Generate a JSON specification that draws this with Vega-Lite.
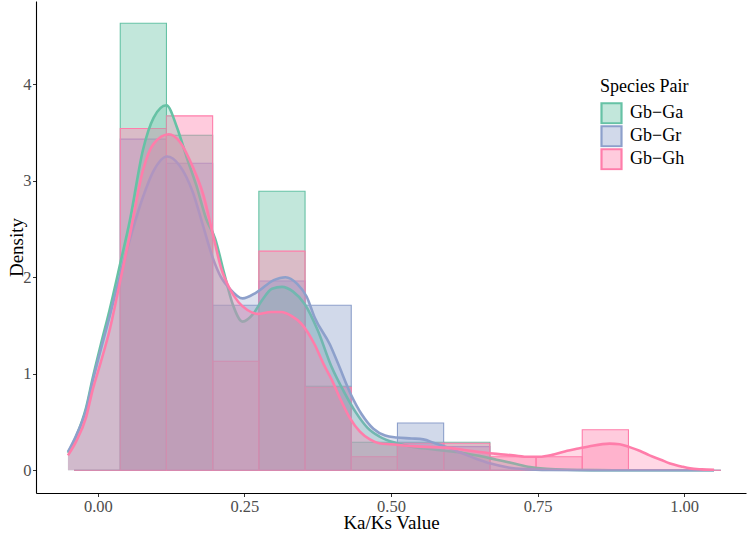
{
  "$schema": "https://vega.github.io/schema/vega-lite/v6.json",
  "width": 710,
  "height": 492,
  "autosize": {"type": "none"},
  "padding": {"left": 36, "top": 1, "right": 2, "bottom": 40},
  "background": "white",
  "config": {
    "view": {"stroke": null},
    "font": "Liberation Serif",
    "axis": {
      "grid": false,
      "domainColor": "#000000",
      "domainWidth": 1.1,
      "tickColor": "#333333",
      "tickSize": 3.5,
      "labelColor": "#4D4D4D",
      "labelFont": "Liberation Serif",
      "labelFontSize": 16.5,
      "titleFont": "Liberation Serif",
      "titleFontSize": 19,
      "titleFontWeight": "normal",
      "titleColor": "#000000"
    },
    "legend": {
      "titleFont": "Liberation Serif",
      "titleFontSize": 18,
      "titleFontWeight": "normal",
      "titleColor": "#000000",
      "labelFont": "Liberation Serif",
      "labelFontSize": 18,
      "labelColor": "#000000"
    }
  },
  "datasets": {
    "hist": [
      {"pair": "Gb−Ga", "x0": -0.0406, "x1": 0.0382, "density": 0},
      {"pair": "Gb−Ga", "x0": 0.0382, "x1": 0.117, "density": 4.63},
      {"pair": "Gb−Ga", "x0": 0.117, "x1": 0.1958, "density": 3.47},
      {"pair": "Gb−Ga", "x0": 0.1958, "x1": 0.2746, "density": 0},
      {"pair": "Gb−Ga", "x0": 0.2746, "x1": 0.3534, "density": 2.89},
      {"pair": "Gb−Ga", "x0": 0.3534, "x1": 0.4322, "density": 0.87},
      {"pair": "Gb−Ga", "x0": 0.4322, "x1": 0.511, "density": 0.29},
      {"pair": "Gb−Ga", "x0": 0.511, "x1": 0.5898, "density": 0.29},
      {"pair": "Gb−Ga", "x0": 0.5898, "x1": 0.6686, "density": 0.29},
      {"pair": "Gb−Ga", "x0": 0.6686, "x1": 0.7474, "density": 0},
      {"pair": "Gb−Ga", "x0": 0.7474, "x1": 0.8262, "density": 0},
      {"pair": "Gb−Ga", "x0": 0.8262, "x1": 0.905, "density": 0},
      {"pair": "Gb−Ga", "x0": 0.905, "x1": 0.9838, "density": 0},
      {"pair": "Gb−Ga", "x0": 0.9838, "x1": 1.0626, "density": 0},
      {"pair": "Gb−Gr", "x0": -0.0406, "x1": 0.0382, "density": 0},
      {"pair": "Gb−Gr", "x0": 0.0382, "x1": 0.117, "density": 3.43},
      {"pair": "Gb−Gr", "x0": 0.117, "x1": 0.1958, "density": 3.18},
      {"pair": "Gb−Gr", "x0": 0.1958, "x1": 0.2746, "density": 1.71},
      {"pair": "Gb−Gr", "x0": 0.2746, "x1": 0.3534, "density": 1.96},
      {"pair": "Gb−Gr", "x0": 0.3534, "x1": 0.4322, "density": 1.71},
      {"pair": "Gb−Gr", "x0": 0.4322, "x1": 0.511, "density": 0},
      {"pair": "Gb−Gr", "x0": 0.511, "x1": 0.5898, "density": 0.49},
      {"pair": "Gb−Gr", "x0": 0.5898, "x1": 0.6686, "density": 0.245},
      {"pair": "Gb−Gr", "x0": 0.6686, "x1": 0.7474, "density": 0},
      {"pair": "Gb−Gr", "x0": 0.7474, "x1": 0.8262, "density": 0},
      {"pair": "Gb−Gr", "x0": 0.8262, "x1": 0.905, "density": 0},
      {"pair": "Gb−Gr", "x0": 0.905, "x1": 0.9838, "density": 0},
      {"pair": "Gb−Gr", "x0": 0.9838, "x1": 1.0626, "density": 0},
      {"pair": "Gb−Gh", "x0": -0.0406, "x1": 0.0382, "density": 0},
      {"pair": "Gb−Gh", "x0": 0.0382, "x1": 0.117, "density": 3.54},
      {"pair": "Gb−Gh", "x0": 0.117, "x1": 0.1958, "density": 3.67},
      {"pair": "Gb−Gh", "x0": 0.1958, "x1": 0.2746, "density": 1.13},
      {"pair": "Gb−Gh", "x0": 0.2746, "x1": 0.3534, "density": 2.27},
      {"pair": "Gb−Gh", "x0": 0.3534, "x1": 0.4322, "density": 0.86},
      {"pair": "Gb−Gh", "x0": 0.4322, "x1": 0.511, "density": 0.14},
      {"pair": "Gb−Gh", "x0": 0.511, "x1": 0.5898, "density": 0.28},
      {"pair": "Gb−Gh", "x0": 0.5898, "x1": 0.6686, "density": 0.28},
      {"pair": "Gb−Gh", "x0": 0.6686, "x1": 0.7474, "density": 0.14},
      {"pair": "Gb−Gh", "x0": 0.7474, "x1": 0.8262, "density": 0.14},
      {"pair": "Gb−Gh", "x0": 0.8262, "x1": 0.905, "density": 0.42},
      {"pair": "Gb−Gh", "x0": 0.905, "x1": 0.9838, "density": 0},
      {"pair": "Gb−Gh", "x0": 0.9838, "x1": 1.0626, "density": 0}
    ],
    "dens": [
      {"pair": "Gb−Ga", "ka": -0.051, "density": 0.18},
      {"pair": "Gb−Ga", "ka": -0.037, "density": 0.35},
      {"pair": "Gb−Ga", "ka": -0.02, "density": 0.65},
      {"pair": "Gb−Ga", "ka": -0.009, "density": 0.95},
      {"pair": "Gb−Ga", "ka": 0.005, "density": 1.3},
      {"pair": "Gb−Ga", "ka": 0.02, "density": 1.66},
      {"pair": "Gb−Ga", "ka": 0.037, "density": 2.11},
      {"pair": "Gb−Ga", "ka": 0.055, "density": 2.6},
      {"pair": "Gb−Ga", "ka": 0.077, "density": 3.32},
      {"pair": "Gb−Ga", "ka": 0.095, "density": 3.65},
      {"pair": "Gb−Ga", "ka": 0.117, "density": 3.78},
      {"pair": "Gb−Ga", "ka": 0.135, "density": 3.55},
      {"pair": "Gb−Ga", "ka": 0.151, "density": 3.25},
      {"pair": "Gb−Ga", "ka": 0.168, "density": 2.95},
      {"pair": "Gb−Ga", "ka": 0.185, "density": 2.6},
      {"pair": "Gb−Ga", "ka": 0.2, "density": 2.4},
      {"pair": "Gb−Ga", "ka": 0.215, "density": 2.05},
      {"pair": "Gb−Ga", "ka": 0.23, "density": 1.72},
      {"pair": "Gb−Ga", "ka": 0.247, "density": 1.54},
      {"pair": "Gb−Ga", "ka": 0.265, "density": 1.62},
      {"pair": "Gb−Ga", "ka": 0.28, "density": 1.76},
      {"pair": "Gb−Ga", "ka": 0.297, "density": 1.88},
      {"pair": "Gb−Ga", "ka": 0.314, "density": 1.9},
      {"pair": "Gb−Ga", "ka": 0.333, "density": 1.85},
      {"pair": "Gb−Ga", "ka": 0.353, "density": 1.72},
      {"pair": "Gb−Ga", "ka": 0.375, "density": 1.45},
      {"pair": "Gb−Ga", "ka": 0.398, "density": 1.08},
      {"pair": "Gb−Ga", "ka": 0.421, "density": 0.8},
      {"pair": "Gb−Ga", "ka": 0.44, "density": 0.6},
      {"pair": "Gb−Ga", "ka": 0.46, "density": 0.44},
      {"pair": "Gb−Ga", "ka": 0.48, "density": 0.35},
      {"pair": "Gb−Ga", "ka": 0.51, "density": 0.28},
      {"pair": "Gb−Ga", "ka": 0.54, "density": 0.24},
      {"pair": "Gb−Ga", "ka": 0.566, "density": 0.22},
      {"pair": "Gb−Ga", "ka": 0.595, "density": 0.2},
      {"pair": "Gb−Ga", "ka": 0.623, "density": 0.18},
      {"pair": "Gb−Ga", "ka": 0.65, "density": 0.15},
      {"pair": "Gb−Ga", "ka": 0.68, "density": 0.11},
      {"pair": "Gb−Ga", "ka": 0.71, "density": 0.07},
      {"pair": "Gb−Ga", "ka": 0.737, "density": 0.035},
      {"pair": "Gb−Ga", "ka": 0.765, "density": 0.015},
      {"pair": "Gb−Ga", "ka": 0.8, "density": 0.005},
      {"pair": "Gb−Ga", "ka": 0.85, "density": 0.002},
      {"pair": "Gb−Ga", "ka": 0.95, "density": 0},
      {"pair": "Gb−Ga", "ka": 1.051, "density": 0},
      {"pair": "Gb−Gr", "ka": -0.051, "density": 0.19},
      {"pair": "Gb−Gr", "ka": -0.037, "density": 0.36},
      {"pair": "Gb−Gr", "ka": -0.02, "density": 0.63},
      {"pair": "Gb−Gr", "ka": -0.009, "density": 0.92},
      {"pair": "Gb−Gr", "ka": 0.005, "density": 1.25},
      {"pair": "Gb−Gr", "ka": 0.02, "density": 1.59},
      {"pair": "Gb−Gr", "ka": 0.037, "density": 2.0},
      {"pair": "Gb−Gr", "ka": 0.055, "density": 2.4},
      {"pair": "Gb−Gr", "ka": 0.077, "density": 2.83},
      {"pair": "Gb−Gr", "ka": 0.095, "density": 3.1},
      {"pair": "Gb−Gr", "ka": 0.118, "density": 3.25},
      {"pair": "Gb−Gr", "ka": 0.139, "density": 3.16},
      {"pair": "Gb−Gr", "ka": 0.162, "density": 2.88},
      {"pair": "Gb−Gr", "ka": 0.18, "density": 2.52},
      {"pair": "Gb−Gr", "ka": 0.196, "density": 2.2},
      {"pair": "Gb−Gr", "ka": 0.21, "density": 2.0},
      {"pair": "Gb−Gr", "ka": 0.225, "density": 1.88},
      {"pair": "Gb−Gr", "ka": 0.247, "density": 1.78},
      {"pair": "Gb−Gr", "ka": 0.27, "density": 1.84},
      {"pair": "Gb−Gr", "ka": 0.3, "density": 1.97},
      {"pair": "Gb−Gr", "ka": 0.32, "density": 2.0},
      {"pair": "Gb−Gr", "ka": 0.34, "density": 1.93},
      {"pair": "Gb−Gr", "ka": 0.356, "density": 1.8},
      {"pair": "Gb−Gr", "ka": 0.37, "density": 1.58},
      {"pair": "Gb−Gr", "ka": 0.396, "density": 1.3},
      {"pair": "Gb−Gr", "ka": 0.41, "density": 1.1},
      {"pair": "Gb−Gr", "ka": 0.432, "density": 0.78},
      {"pair": "Gb−Gr", "ka": 0.45, "density": 0.58},
      {"pair": "Gb−Gr", "ka": 0.47, "density": 0.43},
      {"pair": "Gb−Gr", "ka": 0.49, "density": 0.36},
      {"pair": "Gb−Gr", "ka": 0.51, "density": 0.34},
      {"pair": "Gb−Gr", "ka": 0.535, "density": 0.33},
      {"pair": "Gb−Gr", "ka": 0.555, "density": 0.32},
      {"pair": "Gb−Gr", "ka": 0.575, "density": 0.28},
      {"pair": "Gb−Gr", "ka": 0.595, "density": 0.24},
      {"pair": "Gb−Gr", "ka": 0.62, "density": 0.18},
      {"pair": "Gb−Gr", "ka": 0.645, "density": 0.12},
      {"pair": "Gb−Gr", "ka": 0.67, "density": 0.07},
      {"pair": "Gb−Gr", "ka": 0.7, "density": 0.03},
      {"pair": "Gb−Gr", "ka": 0.73, "density": 0.012},
      {"pair": "Gb−Gr", "ka": 0.77, "density": 0.004},
      {"pair": "Gb−Gr", "ka": 0.85, "density": 0},
      {"pair": "Gb−Gr", "ka": 1.051, "density": 0},
      {"pair": "Gb−Gh", "ka": -0.051, "density": 0.155},
      {"pair": "Gb−Gh", "ka": -0.037, "density": 0.3},
      {"pair": "Gb−Gh", "ka": -0.02, "density": 0.55},
      {"pair": "Gb−Gh", "ka": -0.009, "density": 0.83},
      {"pair": "Gb−Gh", "ka": 0.005, "density": 1.12},
      {"pair": "Gb−Gh", "ka": 0.02, "density": 1.45},
      {"pair": "Gb−Gh", "ka": 0.037, "density": 1.93},
      {"pair": "Gb−Gh", "ka": 0.055, "density": 2.45},
      {"pair": "Gb−Gh", "ka": 0.077, "density": 3.11},
      {"pair": "Gb−Gh", "ka": 0.095, "density": 3.38},
      {"pair": "Gb−Gh", "ka": 0.121, "density": 3.48},
      {"pair": "Gb−Gh", "ka": 0.14, "density": 3.4},
      {"pair": "Gb−Gh", "ka": 0.162, "density": 3.14},
      {"pair": "Gb−Gh", "ka": 0.18, "density": 2.85},
      {"pair": "Gb−Gh", "ka": 0.196, "density": 2.45},
      {"pair": "Gb−Gh", "ka": 0.21, "density": 2.1},
      {"pair": "Gb−Gh", "ka": 0.225, "density": 1.88},
      {"pair": "Gb−Gh", "ka": 0.24, "density": 1.74},
      {"pair": "Gb−Gh", "ka": 0.255, "density": 1.66},
      {"pair": "Gb−Gh", "ka": 0.273, "density": 1.62},
      {"pair": "Gb−Gh", "ka": 0.295, "density": 1.64},
      {"pair": "Gb−Gh", "ka": 0.313, "density": 1.64},
      {"pair": "Gb−Gh", "ka": 0.33, "density": 1.6},
      {"pair": "Gb−Gh", "ka": 0.347, "density": 1.52},
      {"pair": "Gb−Gh", "ka": 0.37, "density": 1.3},
      {"pair": "Gb−Gh", "ka": 0.385, "density": 1.1},
      {"pair": "Gb−Gh", "ka": 0.398, "density": 0.95},
      {"pair": "Gb−Gh", "ka": 0.415, "density": 0.72},
      {"pair": "Gb−Gh", "ka": 0.43, "density": 0.54},
      {"pair": "Gb−Gh", "ka": 0.447, "density": 0.4},
      {"pair": "Gb−Gh", "ka": 0.464, "density": 0.32},
      {"pair": "Gb−Gh", "ka": 0.48, "density": 0.28},
      {"pair": "Gb−Gh", "ka": 0.5, "density": 0.27},
      {"pair": "Gb−Gh", "ka": 0.537, "density": 0.25},
      {"pair": "Gb−Gh", "ka": 0.57, "density": 0.24},
      {"pair": "Gb−Gh", "ka": 0.595, "density": 0.235},
      {"pair": "Gb−Gh", "ka": 0.625, "density": 0.21},
      {"pair": "Gb−Gh", "ka": 0.651, "density": 0.19},
      {"pair": "Gb−Gh", "ka": 0.68, "density": 0.17},
      {"pair": "Gb−Gh", "ka": 0.708, "density": 0.155},
      {"pair": "Gb−Gh", "ka": 0.735, "density": 0.14},
      {"pair": "Gb−Gh", "ka": 0.753, "density": 0.14},
      {"pair": "Gb−Gh", "ka": 0.775, "density": 0.16},
      {"pair": "Gb−Gh", "ka": 0.793, "density": 0.19},
      {"pair": "Gb−Gh", "ka": 0.815, "density": 0.22},
      {"pair": "Gb−Gh", "ka": 0.839, "density": 0.25},
      {"pair": "Gb−Gh", "ka": 0.873, "density": 0.276},
      {"pair": "Gb−Gh", "ka": 0.89, "density": 0.27},
      {"pair": "Gb−Gh", "ka": 0.907, "density": 0.24},
      {"pair": "Gb−Gh", "ka": 0.925, "density": 0.2},
      {"pair": "Gb−Gh", "ka": 0.941, "density": 0.155},
      {"pair": "Gb−Gh", "ka": 0.96, "density": 0.11},
      {"pair": "Gb−Gh", "ka": 0.976, "density": 0.07},
      {"pair": "Gb−Gh", "ka": 0.995, "density": 0.04},
      {"pair": "Gb−Gh", "ka": 1.01, "density": 0.02},
      {"pair": "Gb−Gh", "ka": 1.03, "density": 0.01},
      {"pair": "Gb−Gh", "ka": 1.051, "density": 0.005}
    ]
  },
  "layer": [
    {
      "data": {"name": "hist"},
      "mark": {"type": "rect", "fillOpacity": 0.4, "strokeWidth": 1.1},
      "encoding": {
        "x": {
          "field": "x0", "type": "quantitative",
          "scale": {"domain": [-0.1055, 1.1055], "nice": false, "zero": false},
          "axis": {"values": [0, 0.25, 0.5, 0.75, 1], "format": ".2f", "title": "Ka/Ks Value", "labelPadding": 1.5, "titleY": 35.5, "titleBaseline": "alphabetic"}
        },
        "x2": {"field": "x1"},
        "y": {
          "field": "density", "type": "quantitative",
          "scale": {"domain": [-0.235, 4.86], "nice": false, "zero": false},
          "axis": {"values": [0, 1, 2, 3, 4], "format": "d", "title": "Density", "labelPadding": 1.5, "titleX": -14, "titleBaseline": "alphabetic"}
        },
        "y2": {"datum": 0},
        "fill": {
          "field": "pair", "type": "nominal",
          "scale": {"domain": ["Gb−Ga", "Gb−Gr", "Gb−Gh"], "range": ["#66C2A5", "#8DA0CB", "#FF7DAA"]},
          "legend": {
            "title": "Species Pair",
            "orient": "none",
            "legendX": 564,
            "legendY": 77,
            "symbolType": "square",
            "symbolSize": 400,
            "symbolStrokeWidth": 2.2,
            "rowPadding": 0,
            "clipHeight": 22.5,
            "labelOffset": 7,
            "titlePadding": 6,
            "encode": {"symbols": {"update": {"fillOpacity": {"value": 0.4}, "strokeWidth": {"value": 2.2}}}}
          }
        },
        "stroke": {
          "field": "pair", "type": "nominal",
          "scale": {"domain": ["Gb−Ga", "Gb−Gr", "Gb−Gh"], "range": ["#66C2A5", "#8DA0CB", "#FF7DAA"]}
        }
      }
    },
    {
      "data": {"name": "dens"},
      "transform": [{"filter": {"field": "pair", "equal": "Gb−Ga"}}],
      "layer": [
        {"mark": {"type": "area", "fillOpacity": 0.3, "interpolate": "monotone"},
         "encoding": {"x": {"field": "ka", "type": "quantitative"}, "y": {"field": "density", "type": "quantitative"}, "fill": {"field": "pair", "type": "nominal"}}},
        {"mark": {"type": "line", "strokeWidth": 2.6, "interpolate": "monotone"},
         "encoding": {"x": {"field": "ka", "type": "quantitative"}, "y": {"field": "density", "type": "quantitative"}, "stroke": {"field": "pair", "type": "nominal"}}}
      ]
    },
    {
      "data": {"name": "dens"},
      "transform": [{"filter": {"field": "pair", "equal": "Gb−Gr"}}],
      "layer": [
        {"mark": {"type": "area", "fillOpacity": 0.3, "interpolate": "monotone"},
         "encoding": {"x": {"field": "ka", "type": "quantitative"}, "y": {"field": "density", "type": "quantitative"}, "fill": {"field": "pair", "type": "nominal"}}},
        {"mark": {"type": "line", "strokeWidth": 2.6, "interpolate": "monotone"},
         "encoding": {"x": {"field": "ka", "type": "quantitative"}, "y": {"field": "density", "type": "quantitative"}, "stroke": {"field": "pair", "type": "nominal"}}}
      ]
    },
    {
      "data": {"name": "dens"},
      "transform": [{"filter": {"field": "pair", "equal": "Gb−Gh"}}],
      "layer": [
        {"mark": {"type": "area", "fillOpacity": 0.3, "interpolate": "monotone"},
         "encoding": {"x": {"field": "ka", "type": "quantitative"}, "y": {"field": "density", "type": "quantitative"}, "fill": {"field": "pair", "type": "nominal"}}},
        {"mark": {"type": "line", "strokeWidth": 2.6, "interpolate": "monotone"},
         "encoding": {"x": {"field": "ka", "type": "quantitative"}, "y": {"field": "density", "type": "quantitative"}, "stroke": {"field": "pair", "type": "nominal"}}}
      ]
    }
  ]
}
